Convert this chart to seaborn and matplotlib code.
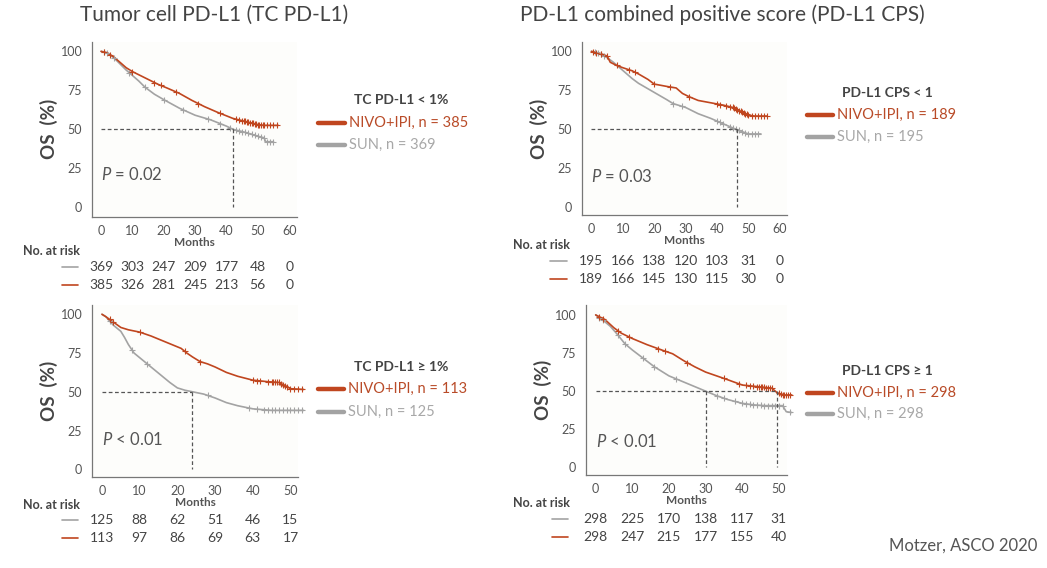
import matplotlib
matplotlib.use('Agg')
import matplotlib.pyplot as plt
from matplotlib.lines import Line2D
from matplotlib import transforms
import seaborn as sns
import numpy as np

##################################################################################
# data
##################################################################################
TITLES = ['Tumor cell PD-L1 (TC PD-L1)', 'PD-L1 combined positive score (PD-L1 CPS)']
GROUPS = ['TC PD-L1 < 1%', 'PD-L1 CPS < 1', 'TC PD-L1 \u2265 1%', 'PD-L1 CPS \u2265 1']
N_NIVO = [385, 189, 113, 298]
N_SUN = [369, 195, 125, 298]
P_TEXT = ['= 0.02', '= 0.03', '< 0.01', '< 0.01']

# TC PD-L1 < 1%
nivo1_m = [0, 2, 4, 6, 8, 10, 12, 15, 18, 21, 25, 29, 33, 37, 42, 46, 50, 52, 56.5]
nivo1_s = [100, 99, 96.5, 93, 89.5, 87, 85, 82, 79, 76.5, 73, 68.5, 64.5, 61, 57, 55, 53, 52.5, 52.5]
sun1_m = [0, 2, 4, 6, 8, 10, 12, 14, 17, 20, 25, 30, 35, 40, 42, 46, 50, 52, 52.5, 55]
sun1_s = [100, 99, 96, 92, 88, 84.5, 81, 77, 72.5, 69, 63.5, 59, 56, 52, 50, 48, 45.5, 44.5, 42, 42]
nivo1_c = [1, 3, 10, 17, 19, 24, 31, 38, 43, 44, 45, 45.5, 46, 46.5, 47, 47.5, 48, 48.5, 49,
           49.5, 50, 50.5, 51, 51.5, 52, 53, 54, 55, 56]
sun1_c = [1, 2, 4, 9, 14, 20, 26, 34, 38, 41, 43, 44, 45, 46, 47, 48, 49, 50, 51, 52, 53, 54, 55]

# PD-L1 CPS < 1
nivo2_m = [0, 3, 5, 6, 8, 10, 13, 15, 18, 20, 24, 27, 29, 31, 34, 38, 42, 45, 48, 50, 52, 56]
nivo2_s = [100, 98.5, 97, 93, 91, 89.5, 87.5, 85.5, 82, 79, 77.5, 76.5, 73, 71, 68.5, 67, 65.5,
           64, 61, 59, 58.5, 58.5]
sun2_m = [0, 3, 5, 7, 9, 11, 13, 15, 18, 21, 24, 26, 30, 34, 38, 42, 46, 48, 50, 54]
sun2_s = [100, 98, 96, 93, 89.5, 86, 82.5, 79.5, 76, 72.5, 69, 66.5, 64, 60, 57, 53.5, 50, 48.5, 47, 47]
nivo2_c = [0.5, 1.5, 3, 5, 8, 12, 14, 20, 25, 31, 40, 41, 43, 44, 45, 45.5, 46, 46.5, 47, 47.5,
           48, 48.5, 49, 49.5, 50, 51, 52, 53, 54, 55, 56]
sun2_c = [1, 2, 3, 4, 26, 29, 40, 41, 42, 44, 45, 46, 47, 48, 49, 50, 51, 52, 53]

# TC PD-L1 >= 1%
nivo3_m = [0, 1, 3, 5, 7, 10, 13, 16, 19, 21, 22.5, 24, 26, 28, 30, 33, 36, 40, 44, 47, 48.5, 50, 53.5]
nivo3_s = [100, 98.5, 95, 91.5, 90, 88.5, 86, 83, 80, 78, 75, 72.5, 69.5, 68, 66, 62.5, 60, 57.5,
           56.5, 56, 54, 52, 51.5]
sun3_m = [0, 1, 3, 5, 6, 7, 8.5, 10, 12, 14, 16, 18, 20, 22, 24, 27, 30, 33, 36, 40, 45, 53.5]
sun3_s = [100, 98.5, 93, 89, 85, 80.5, 75, 72, 68, 64, 60, 56, 52.5, 51, 50, 48.5, 46, 43, 41, 39, 38, 38]
nivo3_c = [2, 3, 10, 22, 26, 40, 41, 42, 44, 45, 45.5, 46, 46.5, 47, 47.5, 48, 48.5, 49, 50, 51, 52, 53]
sun3_c = [2, 8, 12, 28, 39, 41, 43, 44, 45, 46, 47, 48, 49, 50, 51, 52, 53]

# PD-L1 CPS >= 1
nivo4_m = [0, 2.5, 5, 7, 10, 14, 18, 21, 24, 27, 30, 33, 36, 40, 44, 48, 49.5, 51, 53.5]
nivo4_s = [100, 97, 91.5, 88, 84.5, 80.5, 77, 74.5, 70, 66, 62.5, 60, 57.5, 54, 53, 52, 49, 47.5, 47.5]
sun4_m = [0, 2, 4, 6, 8, 10, 13, 16, 20, 23, 26, 30, 33, 36, 40, 43, 46, 51, 52, 53.5]
sun4_s = [100, 96.5, 92.5, 87, 81, 77, 71.5, 66, 60, 57, 54, 50, 47, 44.5, 42, 41, 40.5, 40.5, 36.5, 36]
nivo4_c = [1, 2, 6, 9, 17, 19, 25, 35, 39, 41, 42, 43, 44, 44.5, 45, 45.5, 46, 46.5, 47, 47.5,
           48, 50, 50.5, 51, 51.5, 52, 52.5, 53]
sun4_c = [1, 2, 6, 8, 13, 16, 22, 33, 35, 38, 40, 41, 42, 43, 44, 45, 46, 47, 48, 49, 50, 51, 53]

# medians marked with dashed lines
MEDIANS = [[42], [46.5], [24], [30, 49.5]]

# number at risk
RISK_T = [[0, 10, 20, 30, 40, 50, 60], [0, 10, 20, 30, 40, 50, 60],
          [0, 10, 20, 30, 40, 50], [0, 10, 20, 30, 40, 50]]
risk_sun = [[369, 303, 247, 209, 177, 48, 0], [195, 166, 138, 120, 103, 31, 0],
            [125, 88, 62, 51, 46, 15], [298, 225, 170, 138, 117, 31]]
risk_nivo = [[385, 326, 281, 245, 213, 56, 0], [189, 166, 145, 130, 115, 30, 0],
             [113, 97, 86, 69, 63, 17], [298, 247, 215, 177, 155, 40]]

XTICKS = [[0, 10, 20, 30, 40, 50, 60], [0, 10, 20, 30, 40, 50, 60],
          [0, 10, 20, 30, 40, 50], [0, 10, 20, 30, 40, 50]]

##################################################################################
# style
##################################################################################
NIVO_C = '#c0461f'
SUN_C = '#a3a3a3'
NIVO_TXT = '#b94b28'
SUN_TXT = '#a8a8a8'
DARK = '#444444'
MID = '#555555'

sns.set_theme(style='white')
plt.rcParams['font.family'] = ['Lato', 'DejaVu Sans']
plt.rcParams['mathtext.fontset'] = 'custom'
plt.rcParams['mathtext.it'] = 'Lato:italic'
plt.rcParams['mathtext.rm'] = 'Lato'

W, H = 1047, 568
fig = plt.figure(figsize=(W / 100, H / 100), dpi=100)
fig.patch.set_facecolor('white')


def fx(px):
    return px / W


def fy(py):
    return 1 - py / H


# axes boxes (pixels: left, right, top, bottom) and data limits
BOXES = [(92, 297, 42, 216.5), (582, 787, 42, 215), (92, 298, 305, 477), (586, 787, 305, 475)]
XLIMS = [(-2.9, 62.5), (-3.0, 62.3), (-2.65, 52.0), (-2.64, 52.2)]
YLIMS = [(-6, 106), (-5, 106), (-5, 106), (-5, 106.5)]

# legend / risk table anchor positions (pixels)
LEG = [(401, 100, 318, 345, 123, 145), (887, 93, 807, 833, 115, 137),
       (401, 367, 318, 344, 389, 412), (887, 371, 807, 833, 393, 414)]
RISK = [(23, 251, 62, 78, 267, 285), (513, 245, 550, 567, 261, 279),
        (23, 505, 62, 78, 520, 538), (513, 503, 552, 568, 519, 537)]
P_Y = [21, 20, 19, 17]

curves = [(nivo1_m, nivo1_s, nivo1_c, sun1_m, sun1_s, sun1_c),
          (nivo2_m, nivo2_s, nivo2_c, sun2_m, sun2_s, sun2_c),
          (nivo3_m, nivo3_s, nivo3_c, sun3_m, sun3_s, sun3_c),
          (nivo4_m, nivo4_s, nivo4_c, sun4_m, sun4_s, sun4_c)]

for k in range(4):
    l, r, t, b = BOXES[k]
    ax = fig.add_axes([fx(l), fy(b), fx(r - l), (b - t) / H])
    ax.set_facecolor('#fdfdfb')
    nm, ns, nc, sm, ss, sc = curves[k]

    sns.lineplot(x=sm, y=ss, ax=ax, color=SUN_C, linewidth=1.2, estimator=None, clip_on=False)
    sns.lineplot(x=nm, y=ns, ax=ax, color=NIVO_C, linewidth=1.2, estimator=None, clip_on=False)
    ax.plot(sc, np.interp(sc, sm, ss), linestyle='', marker='+', color=SUN_C,
            markersize=5, mew=0.8, clip_on=False)
    ax.plot(nc, np.interp(nc, nm, ns), linestyle='', marker='+', color=NIVO_C,
            markersize=5, mew=0.8, clip_on=False)

    # median lines
    meds = MEDIANS[k]
    ax.plot([0, max(meds)], [50, 50], color=MID, lw=0.9, ls=(0, (3, 2)))
    for m in meds:
        ax.plot([m, m], [50, 0], color=MID, lw=0.9, ls=(0, (3, 2)))

    ax.set_xlim(*XLIMS[k])
    ax.set_ylim(*YLIMS[k])
    ax.set_xticks(XTICKS[k])
    ax.set_yticks([0, 25, 50, 75, 100])
    ax.tick_params(axis='both', labelsize=9, colors=MID, length=3, width=0.8)
    ax.tick_params(axis='y', pad=4)
    ax.tick_params(axis='x', pad=3)
    for s in ['top', 'right']:
        ax.spines[s].set_visible(False)
    for s in ['left', 'bottom']:
        ax.spines[s].set_color('#777777')
        ax.spines[s].set_linewidth(0.9)

    ax.set_xlabel('Months', fontsize=8.5, fontweight='bold', color=MID, labelpad=0)
    ax.set_ylabel('OS  (%)', fontsize=13.5, fontweight='bold', color=DARK)
    ax.yaxis.set_label_coords(-34 / (r - l), 0.5)

    ax.text(0, P_Y[k], r'$P$ ' + P_TEXT[k], fontsize=12, color=MID, va='center', ha='left')

    # legend
    hx, hy, lx0, lx1, y1, y2 = LEG[k]
    fig.text(fx(hx), fy(hy), GROUPS[k], fontsize=10, fontweight='bold', color=DARK,
             ha='center', va='center')
    fig.add_artist(Line2D([fx(lx0), fx(lx1)], [fy(y1), fy(y1)], color=NIVO_C, lw=3.2))
    fig.add_artist(Line2D([fx(lx0), fx(lx1)], [fy(y2), fy(y2)], color=SUN_C, lw=3.2))
    fig.text(fx(lx1 + 4), fy(y1), 'NIVO+IPI, n = ' + str(N_NIVO[k]), fontsize=10.5,
             color=NIVO_TXT, ha='left', va='center')
    fig.text(fx(lx1 + 4), fy(y2), 'SUN, n = ' + str(N_SUN[k]), fontsize=10.5,
             color=SUN_TXT, ha='left', va='center')

    # number at risk
    nx, ny, sx0, sx1, ry1, ry2 = RISK[k]
    fig.text(fx(nx), fy(ny), 'No. at risk', fontsize=9, fontweight='bold', color=DARK,
             ha='left', va='center')
    fig.add_artist(Line2D([fx(sx0), fx(sx1)], [fy(ry1), fy(ry1)], color=SUN_C, lw=1.2))
    fig.add_artist(Line2D([fx(sx0), fx(sx1)], [fy(ry2), fy(ry2)], color=NIVO_C, lw=1.2))
    trans = transforms.blended_transform_factory(ax.transData, fig.transFigure)
    for t_, a_, b_ in zip(RISK_T[k], risk_sun[k], risk_nivo[k]):
        ax.text(t_, fy(ry1), str(a_), transform=trans, fontsize=10, color=DARK,
                ha='center', va='center', clip_on=False)
        ax.text(t_, fy(ry2), str(b_), transform=trans, fontsize=10, color=DARK,
                ha='center', va='center', clip_on=False)

# titles and source
fig.text(fx(80), fy(15), TITLES[0], fontsize=15, color=DARK, ha='left', va='center')
fig.text(fx(520), fy(15), TITLES[1], fontsize=15, color=DARK, ha='left', va='center')
fig.text(fx(1037), fy(546), 'Motzer, ASCO 2020', fontsize=12, color=MID, ha='right', va='center')

plt.savefig('out.png', dpi=100)
